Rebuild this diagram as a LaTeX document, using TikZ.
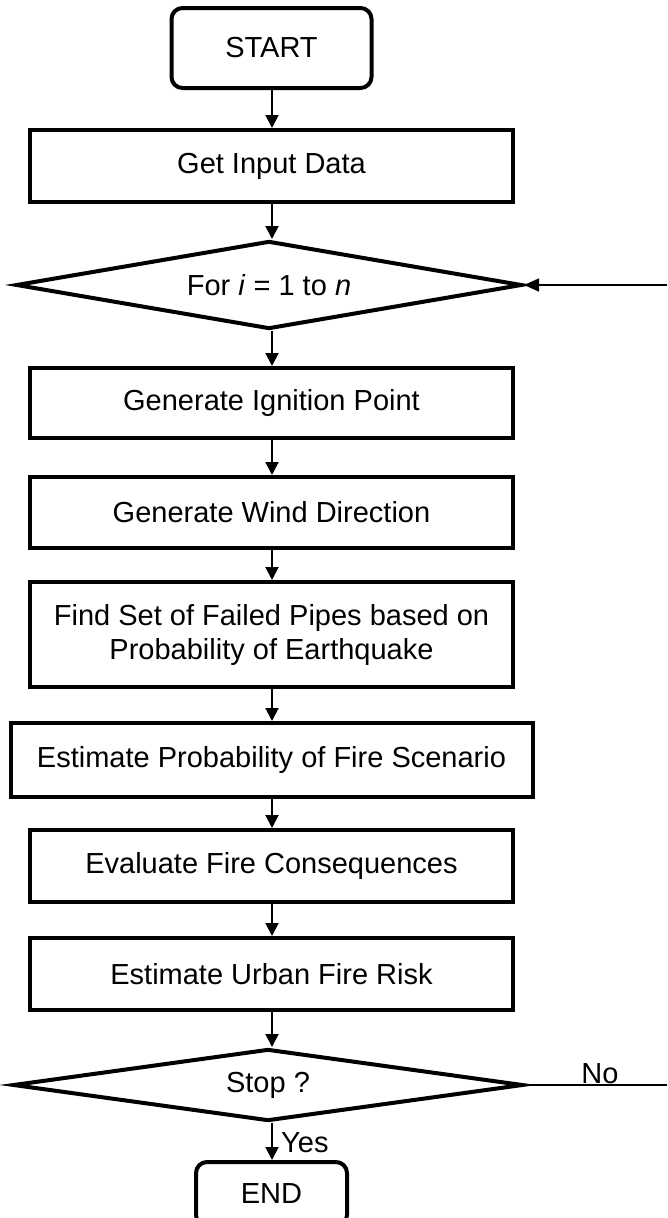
\documentclass[tikz,border=0pt]{standalone}
\usepackage{fontspec}
\setmainfont{Liberation Sans}
\usetikzlibrary{shapes.geometric,arrows.meta}
\tikzset{
  box/.style={draw, line width=4pt, rectangle, inner sep=0pt, align=center, minimum width=483pt},
  term/.style={draw, line width=4pt, rectangle, rounded corners=11pt, inner sep=0pt},
  dec/.style={draw, line width=4pt, diamond, inner sep=0pt},
  flow/.style={line width=2pt, -{Triangle[length=13pt,width=13pt]}},
  thin/.style={line width=1.6pt},
  every node/.append style={font=\fontsize{29}{34}\selectfont}
}
\begin{document}
\begin{tikzpicture}[x=1pt,y=-1pt]
\clip (0,0) rectangle (667,1218);
\fill[white] (0,0) rectangle (667,1218);
\node[term, minimum width=200pt, minimum height=80pt] (start) at (271.5,48) {START};
\node[box, minimum height=72pt] (input) at (271.5,166) {Get Input Data};
\node[dec, minimum width=506pt, minimum height=88pt, aspect=5.7] (loop) at (269,285) {For \textit{i} = 1 to \textit{n}};
\node[box, minimum height=70pt] (ign) at (271.5,403) {Generate Ignition Point};
\node[box, minimum height=71pt] (wind) at (271.5,512.5) {Generate Wind Direction};
\node[box, minimum height=105pt] (find) at (271.5,634.5) {Find Set of Failed Pipes based on\\Probability of Earthquake};
\node[box, minimum width=522pt, minimum height=74pt] (prob) at (271.5,760) {Estimate Probability of Fire Scenario};
\node[box, minimum height=72pt] (eval) at (271.5,866) {Evaluate Fire Consequences};
\node[box, minimum height=72pt] (risk) at (271.5,974) {Estimate Urban Fire Risk};
\node[dec, minimum width=510pt, minimum height=72pt, aspect=7] (stop) at (268,1085) {Stop ?};
\node[term, minimum width=151pt, minimum height=64pt] (end) at (271.5,1194) {END};
\coordinate (loopin) at (667,285);
\coordinate (noout) at (667,1085);
\draw[flow] (start.south -| 272,0) -- (input.north -| 272,0);
\draw[flow] (input.south -| 272,0) -- (loop.north -| 272,0);
\draw[flow] (loop.south -| 272,0) -- (ign.north -| 272,0);
\draw[flow] (ign.south -| 272,0) -- (wind.north -| 272,0);
\draw[flow] (wind.south -| 272,0) -- (find.north -| 272,0);
\draw[flow] (find.south -| 272,0) -- (prob.north -| 272,0);
\draw[flow] (prob.south -| 272,0) -- (eval.north -| 272,0);
\draw[flow] (eval.south -| 272,0) -- (risk.north -| 272,0);
\draw[flow] (risk.south -| 272,0) -- (stop.north -| 272,0);
\draw[flow] (stop.south -| 272,0) -- (end.north -| 272,0);
\draw[thin, -{Triangle[length=15pt,width=13pt]}] (loopin) -- (loop.east);
\draw[thin] (stop.east) -- (noout);
\node[anchor=base] (nolab) at (600,1083) {No};
\node[anchor=base west, inner sep=0pt] (yeslab) at (281,1152) {Yes};
\end{tikzpicture}
\end{document}
